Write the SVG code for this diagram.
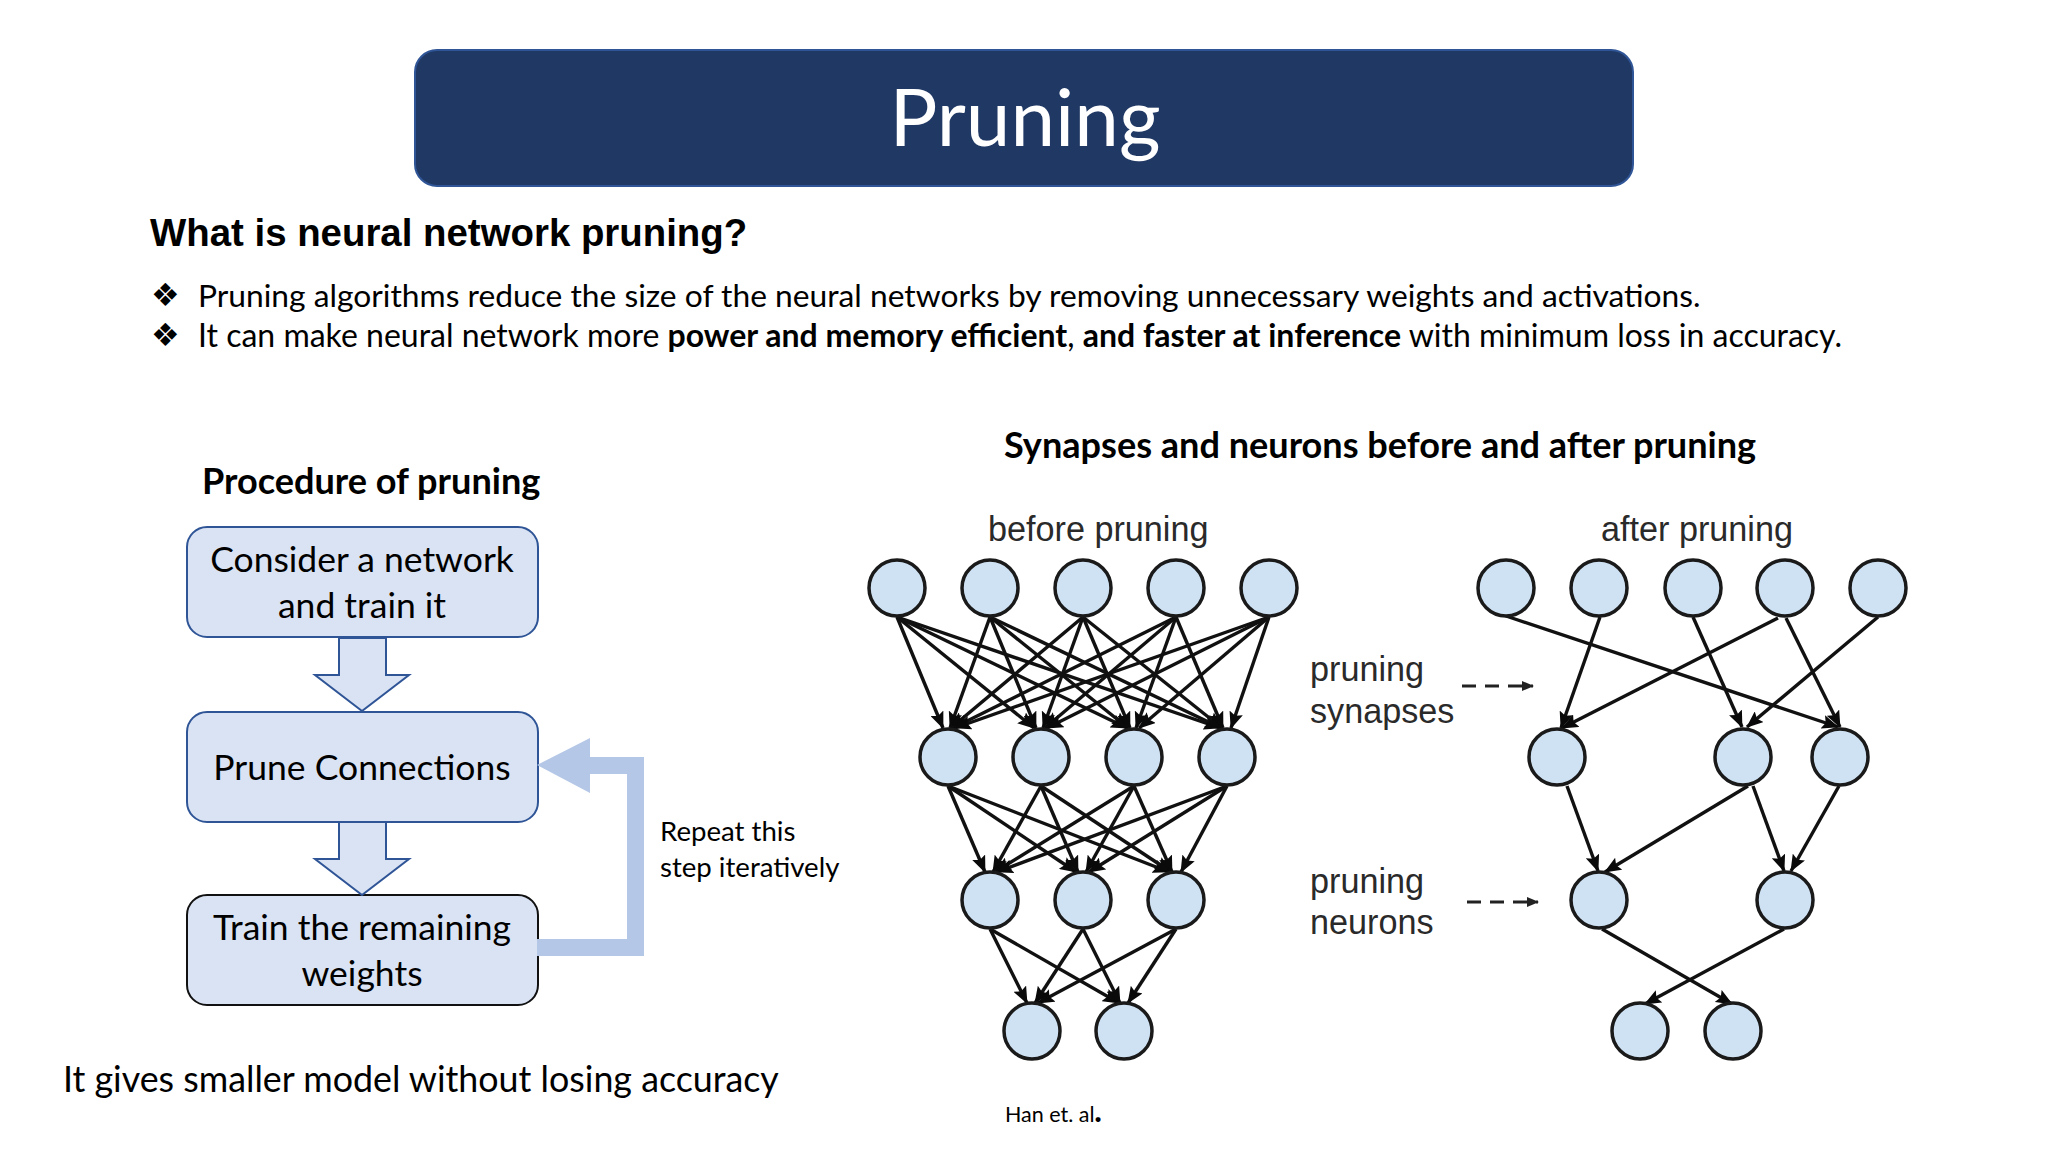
<svg xmlns="http://www.w3.org/2000/svg" width="2048" height="1152" viewBox="0 0 2048 1152">
<defs>
<marker id="ah" markerUnits="userSpaceOnUse" markerWidth="17" markerHeight="14" refX="16" refY="7" orient="auto"><path d="M0,0 L17,7 L0,14 L3,7 Z" fill="#0a0a0a"/></marker>
<marker id="ad" markerUnits="userSpaceOnUse" markerWidth="12" markerHeight="10" refX="11" refY="5" orient="auto"><path d="M0,0 L12,5 L0,10 Z" fill="#222"/></marker>
</defs>
<style>
text{font-family:"Lato","Liberation Sans",sans-serif;fill:#000}
.head{font-family:"Liberation Sans",Arial,sans-serif;font-weight:700;font-size:38.4px}
.sub{font-size:36.1px;font-weight:700}
.box{font-size:35.5px;text-anchor:middle}
.img{font-family:"Liberation Sans",Arial,sans-serif;font-size:34.2px;fill:#2a2a2a}
.n{fill:#cfe2f3;stroke:#1a1a1a;stroke-width:3.5}
.e line{stroke:#111;stroke-width:3.4;marker-end:url(#ah)}
.d line{stroke:#222;stroke-width:3.2;stroke-dasharray:14 9;marker-end:url(#ad)}
.r{fill:#dae3f3;stroke:#2f5597;stroke-width:2}
.b{fill:#dae3f3;stroke:#2f5597;stroke-width:2}
</style>
<rect width="2048" height="1152" fill="#fff"/>
<g id="title"><rect x="415" y="50" width="1218" height="136" rx="22" fill="#203864" stroke="#2f5597" stroke-width="2"/>
<text x="1025" y="146" text-anchor="middle" font-size="80" style="fill:#fff;font-weight:400">Pruning</text></g>
<g id="intro">
<text class="head" x="150" y="246">What is neural network pruning?</text>
<text x="151" y="306" font-size="32" style="font-family:'DejaVu Sans',sans-serif">❖</text>
<text x="151" y="346" font-size="32" style="font-family:'DejaVu Sans',sans-serif">❖</text>
<text x="198" y="307" font-size="31.75">Pruning algorithms reduce the size of the neural networks by removing unnecessary weights and activations.</text>
<text x="198" y="347" font-size="32">It can make neural network more <tspan font-weight="700">power and memory efficient</tspan>, <tspan font-weight="700">and faster at inference</tspan> with minimum loss in accuracy.</text>
</g>
<text class="sub" x="202" y="494">Procedure of pruning</text>
<text class="sub" x="1004" y="458">Synapses and neurons before and after pruning</text>
<g id="step1"><rect class="r" x="187" y="527" width="351" height="110" rx="20"/><text class="box" x="362" y="572">Consider a network</text><text class="box" x="362" y="618">and train it</text></g>
<g id="step2"><rect class="r" x="187" y="712" width="351" height="110" rx="20"/><text class="box" x="362" y="780">Prune Connections</text></g>
<g id="step3"><rect x="187" y="895" width="351" height="110" rx="20" fill="#dae3f3" stroke="#111" stroke-width="2"/><text class="box" x="362" y="940">Train the remaining</text><text class="box" x="362" y="986">weights</text></g>
<g id="flow-connectors">
<path class="b" d="M339,638 H386 V675 H409 L362,711 L315,675 H339 Z"/>
<path class="b" d="M339,822 H386 V859 H409 L362,895 L315,859 H339 Z"/>
<path d="M537,939 H627 V774 H590 V793 L537,765 L590,738 V757 H644 V956 H537 Z" fill="#b4c7e7"/>
</g>
<text x="660" y="841" font-size="27.6">Repeat this</text>
<text x="660" y="877" font-size="27.6">step iteratively</text>
<text x="63" y="1092" font-size="35.8">It gives smaller model without losing accuracy</text>
<text x="1005" y="1122" font-size="21.5">Han et. al<tspan font-weight="900" font-size="30">.</tspan></text>
<text class="img" x="988" y="541">before pruning</text>
<text class="img" x="1601" y="541">after pruning</text>
<text class="img" x="1310" y="681">pruning</text>
<text class="img" x="1310" y="723">synapses</text>
<text class="img" x="1310" y="893">pruning</text>
<text class="img" x="1310" y="934">neurons</text>
<g id="connectors" class="e">
<line x1="897" y1="617" x2="943" y2="728"/><line x1="990" y1="617" x2="950" y2="728"/><line x1="1083" y1="617" x2="951" y2="728"/><line x1="1176" y1="617" x2="953" y2="728"/><line x1="1269" y1="617" x2="955" y2="728"/>
<line x1="897" y1="617" x2="1034" y2="728"/><line x1="990" y1="617" x2="1036" y2="728"/><line x1="1083" y1="617" x2="1043" y2="728"/><line x1="1176" y1="617" x2="1045" y2="728"/><line x1="1269" y1="617" x2="1047" y2="728"/>
<line x1="897" y1="617" x2="1127" y2="728"/><line x1="990" y1="617" x2="1128" y2="728"/><line x1="1083" y1="617" x2="1130" y2="728"/><line x1="1176" y1="617" x2="1136" y2="728"/><line x1="1269" y1="617" x2="1139" y2="728"/>
<line x1="897" y1="617" x2="1220" y2="728"/><line x1="990" y1="617" x2="1221" y2="728"/><line x1="1083" y1="617" x2="1222" y2="728"/><line x1="1176" y1="617" x2="1223" y2="728"/><line x1="1269" y1="617" x2="1231" y2="728"/>
<line x1="948" y1="786" x2="985" y2="872"/><line x1="1041" y1="786" x2="993" y2="872"/><line x1="1134" y1="786" x2="995" y2="872"/><line x1="1227" y1="786" x2="997" y2="872"/>
<line x1="948" y1="786" x2="1076" y2="872"/><line x1="1041" y1="786" x2="1078" y2="872"/><line x1="1134" y1="786" x2="1086" y2="872"/><line x1="1227" y1="786" x2="1089" y2="872"/>
<line x1="948" y1="786" x2="1169" y2="872"/><line x1="1041" y1="786" x2="1171" y2="872"/><line x1="1134" y1="786" x2="1172" y2="872"/><line x1="1227" y1="786" x2="1181" y2="872"/>
<line x1="990" y1="929" x2="1027" y2="1003"/><line x1="1083" y1="929" x2="1035" y2="1003"/><line x1="1176" y1="929" x2="1038" y2="1003"/>
<line x1="990" y1="929" x2="1119" y2="1003"/><line x1="1083" y1="929" x2="1120" y2="1003"/><line x1="1176" y1="929" x2="1128" y2="1003"/>
<line x1="1506" y1="616" x2="1838" y2="727"/><line x1="1600" y1="617" x2="1561" y2="728"/><line x1="1693" y1="617" x2="1742" y2="727"/><line x1="1778" y1="618" x2="1562" y2="728"/><line x1="1786" y1="618" x2="1840" y2="727"/><line x1="1878" y1="617" x2="1747" y2="727"/>
<line x1="1567" y1="786" x2="1598" y2="871"/><line x1="1748" y1="786" x2="1605" y2="872"/><line x1="1753" y1="786" x2="1784" y2="871"/><line x1="1839" y1="786" x2="1791" y2="871"/>
<line x1="1602" y1="929" x2="1732" y2="1004"/><line x1="1784" y1="929" x2="1645" y2="1004"/>
</g>
<g id="dash-connectors" class="d"><line x1="1462" y1="686" x2="1533" y2="686"/><line x1="1467" y1="902" x2="1538" y2="902"/></g>
<g id="before-nodes">
<g id="b11"><circle class="n" cx="897" cy="588" r="28"/></g><g id="b12"><circle class="n" cx="990" cy="588" r="28"/></g><g id="b13"><circle class="n" cx="1083" cy="588" r="28"/></g><g id="b14"><circle class="n" cx="1176" cy="588" r="28"/></g><g id="b15"><circle class="n" cx="1269" cy="588" r="28"/></g>
<g id="b21"><circle class="n" cx="948" cy="757" r="28"/></g><g id="b22"><circle class="n" cx="1041" cy="757" r="28"/></g><g id="b23"><circle class="n" cx="1134" cy="757" r="28"/></g><g id="b24"><circle class="n" cx="1227" cy="757" r="28"/></g>
<g id="b31"><circle class="n" cx="990" cy="900" r="28"/></g><g id="b32"><circle class="n" cx="1083" cy="900" r="28"/></g><g id="b33"><circle class="n" cx="1176" cy="900" r="28"/></g>
<g id="b41"><circle class="n" cx="1032" cy="1031" r="28"/></g><g id="b42"><circle class="n" cx="1124" cy="1031" r="28"/></g>
</g>
<g id="after-nodes">
<g id="a11"><circle class="n" cx="1506" cy="588" r="28"/></g><g id="a12"><circle class="n" cx="1599" cy="588" r="28"/></g><g id="a13"><circle class="n" cx="1693" cy="588" r="28"/></g><g id="a14"><circle class="n" cx="1785" cy="588" r="28"/></g><g id="a15"><circle class="n" cx="1878" cy="588" r="28"/></g>
<g id="a21"><circle class="n" cx="1557" cy="757" r="28"/></g><g id="a22"><circle class="n" cx="1743" cy="757" r="28"/></g><g id="a23"><circle class="n" cx="1840" cy="757" r="28"/></g>
<g id="a31"><circle class="n" cx="1599" cy="900" r="28"/></g><g id="a32"><circle class="n" cx="1785" cy="900" r="28"/></g>
<g id="a41"><circle class="n" cx="1640" cy="1031" r="28"/></g><g id="a42"><circle class="n" cx="1733" cy="1031" r="28"/></g>
</g>
</svg>
